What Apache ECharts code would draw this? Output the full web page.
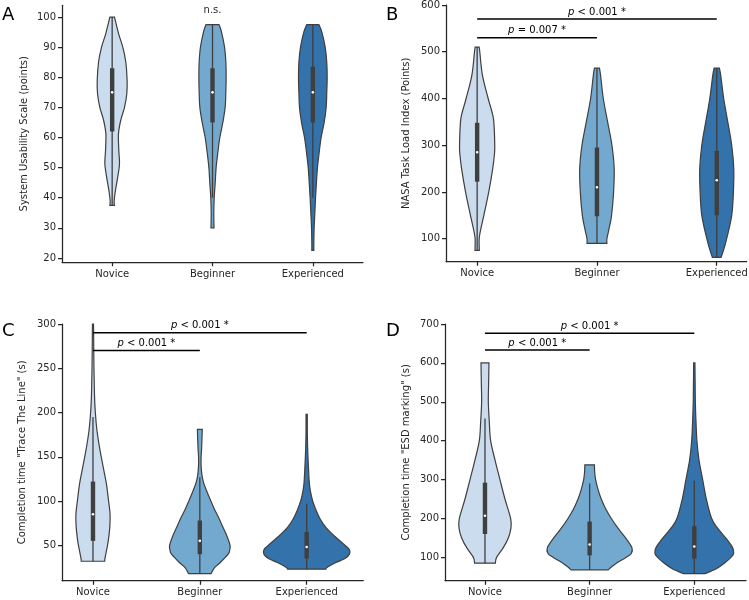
<!DOCTYPE html>
<html><head><meta charset="utf-8">
<script src="https://cdn.jsdelivr.net/npm/echarts@6/dist/echarts.min.js"></script>
<style>html,body{margin:0;padding:0;background:#fff}#c{width:749px;height:600px}</style>
</head><body><div id="c"></div>
<script>
// ---------- data ----------
const categories = ['Novice', 'Beginner', 'Experienced'];
// violin profiles: [value, half-width in category units]
const A_novice = [[37.5,0.023],[39,0.02],[42.5,0.033],[47,0.056],[51.4,0.073],[55.8,0.066],[61.3,0.063],[65.8,0.086],[70,0.123],[74.6,0.146],[79,0.149],[85,0.136],[90,0.106],[94.6,0.063],[100,0.023]];
const A_beginner = [[30,0.015],[35,0.013],[40,0.017],[45,0.027],[50,0.036],[55,0.053],[60,0.073],[65,0.103],[70,0.126],[75,0.133],[80,0.136],[85,0.133],[90,0.12],[95,0.09],[97.5,0.065]];
const A_experienced = [[22.5,0.01],[25,0.01],[30,0.013],[35,0.02],[40,0.027],[45,0.036],[50,0.046],[55,0.063],[60,0.083],[65,0.113],[70,0.133],[75,0.139],[80,0.143],[85,0.139],[90,0.123],[95,0.09],[97.5,0.06]];
const B_novice = [[75,0.018],[100,0.017],[120,0.03],[150,0.056],[200,0.097],[250,0.13],[280,0.144],[300,0.147],[350,0.139],[370,0.125],[400,0.092],[450,0.044],[500,0.022],[510,0.017]];
const B_beginner = [[90,0.083],[100,0.083],[120,0.1],[150,0.122],[200,0.139],[250,0.144],[300,0.125],[350,0.089],[400,0.053],[450,0.03],[465,0.021]];
const B_experienced = [[60,0.036],[75,0.056],[100,0.083],[150,0.125],[200,0.139],[250,0.142],[300,0.125],[350,0.092],[400,0.058],[450,0.033],[465,0.022]];
const C_novice = [[32,0.11],[35,0.112],[45,0.128],[55,0.143],[70,0.157],[85,0.16],[100,0.146],[120,0.125],[140,0.093],[160,0.062],[180,0.037],[200,0.022],[220,0.014],[250,0.009],[300,0.005]];
const C_beginner = [[18,0.105],[25,0.14],[30,0.187],[40,0.265],[45,0.28],[50,0.283],[60,0.255],[70,0.218],[80,0.181],[90,0.14],[100,0.103],[110,0.069],[120,0.037],[130,0.019],[140,0.012],[150,0.012],[160,0.017],[170,0.02],[181,0.023]];
const C_experienced = [[23,0.18],[25,0.19],[30,0.265],[35,0.358],[40,0.4],[45,0.4],[50,0.358],[60,0.265],[70,0.181],[80,0.125],[90,0.087],[100,0.056],[110,0.037],[120,0.025],[140,0.016],[160,0.009],[180,0.006],[198,0.006]];
const D_novice = [[85,0.099],[100,0.111],[125,0.175],[150,0.223],[175,0.248],[200,0.245],[250,0.191],[300,0.143],[350,0.096],[400,0.054],[450,0.041],[500,0.032],[550,0.035],[600,0.038]];
const D_beginner = [[68,0.178],[75,0.207],[85,0.255],[100,0.35],[110,0.398],[125,0.404],[150,0.344],[175,0.271],[200,0.207],[225,0.153],[250,0.111],[275,0.08],[300,0.057],[320,0.048],[338,0.046]];
const D_experienced = [[58,0.1],[70,0.207],[85,0.287],[100,0.35],[110,0.376],[125,0.366],[150,0.3],[175,0.223],[200,0.166],[250,0.115],[300,0.08],[350,0.045],[400,0.025],[450,0.016],[500,0.01],[550,0.008],[600,0.006]];
// inner boxes: [lower whisker, q1, median, q3, upper whisker]
const A_boxes = [[37.5,62,75,83,100],[40,65,75,83,97.5],[40,65,75,83.5,97.5]];
const B_boxes = [[75,222,285,348,510],[90,148,210,295,465],[60,150,225,288,465]];
const C_boxes = [[32,55,85,122,195],[18,40,55,78,127],[23,35,48,65,97]];
const D_boxes = [[85,160,207,292,457],[68,105,133,192,290],[58,97,128,180,297]];
// significance brackets: [from category, to category, value, label]
const B_brackets = [[0,1,530,'= 0.007 *'],[0,2,570,'< 0.001 *']];
const C_brackets = [[0,1,270,'< 0.001 *'],[0,2,290,'< 0.001 *']];
const D_brackets = [[0,1,633,'< 0.001 *'],[0,2,676,'< 0.001 *']];
const A_note = [[1,102.3,'n.s.']];
// y tick values
const A_ticks = [20,30,40,50,60,70,80,90,100];
const B_ticks = [100,200,300,400,500,600];
const C_ticks = [50,100,150,200,250,300];
const D_ticks = [100,200,300,400,500,600,700];
const yTitles = ['System Usability Scale (points)','NASA Task Load Index (Points)','Completion time "Trace The Line" (s)','Completion time "ESD marking" (s)'];

// ---------- styling / layout ----------
const colors = ['#cadcee','#74a9cf','#3372aa'];
const FONT = 'DejaVu Sans';
const TXT = '#262626';
const panels = [
  {grid:{left:62,top:5.3,width:301,height:256.9}, y:[18.6,103.9], x:[-0.5,2.5], ticks:A_ticks, prof:[A_novice,A_beginner,A_experienced], boxes:A_boxes, brackets:[], nameGap:33},
  {grid:{left:446,top:5,width:300.7,height:256.7}, y:[50.8,600], x:[-0.26,2.25], ticks:B_ticks, prof:[B_novice,B_beginner,B_experienced], boxes:B_boxes, brackets:B_brackets, nameGap:35},
  {grid:{left:62,top:324,width:301.3,height:256.7}, y:[10,300], x:[-0.29,2.53], ticks:C_ticks, prof:[C_novice,C_beginner,C_experienced], boxes:C_boxes, brackets:C_brackets, nameGap:35},
  {grid:{left:445,top:324,width:301,height:256.7}, y:[40,700], x:[-0.382,2.494], ticks:D_ticks, prof:[D_novice,D_beginner,D_experienced], boxes:D_boxes, brackets:D_brackets, nameGap:34}
];

function sideCurve(pts) {
  let d = '';
  for (let k = 0; k < pts.length - 1; k++) {
    const p0 = pts[k-1] || pts[k], p1 = pts[k], p2 = pts[k+1], p3 = pts[k+2] || pts[k+1];
    const c1 = [p1[0] + (p2[0]-p0[0])/6, p1[1] + (p2[1]-p0[1])/6];
    const c2 = [p2[0] - (p3[0]-p1[0])/6, p2[1] - (p3[1]-p1[1])/6];
    d += ' C' + c1[0] + ' ' + c1[1] + ' ' + c2[0] + ' ' + c2[1] + ' ' + p2[0] + ' ' + p2[1];
  }
  return d;
}

const grid = [], xAxis = [], yAxis = [], series = [];
panels.forEach((p, g) => {
  grid.push(Object.assign({outerBoundsMode:'none', containLabel:false}, p.grid));
  xAxis.push({type:'value', gridIndex:g, min:p.x[0], max:p.x[1],
    axisLine:{show:true, onZero:false, lineStyle:{color:TXT, width:1.25}},
    axisTick:{show:true, length:4, customValues:[0,1,2], lineStyle:{color:TXT, width:1.25}},
    axisLabel:{customValues:[0,1,2], formatter:v => categories[Math.round(v)], color:TXT, fontSize:10, fontFamily:FONT, margin:7},
    splitLine:{show:false}});
  yAxis.push({type:'value', gridIndex:g, min:p.y[0], max:p.y[1],
    axisLine:{show:true, onZero:false, lineStyle:{color:TXT, width:1.25}},
    axisTick:{show:true, length:4, customValues:p.ticks, lineStyle:{color:TXT, width:1.25}},
    axisLabel:{customValues:p.ticks, color:TXT, fontSize:10, fontFamily:FONT, margin:6},
    splitLine:{show:false},
    name:yTitles[g], nameLocation:'middle', nameGap:p.nameGap, nameRotate:90,
    nameTextStyle:{color:TXT, fontSize:10, fontFamily:FONT}});
  series.push({type:'custom', xAxisIndex:g, yAxisIndex:g, silent:true,
    data:p.boxes.map((b, i) => [i, b[2]]),
    renderItem:(params, api) => {
      const i = params.dataIndex;
      const prof = p.prof[i];
      const right = prof.map(([v, w]) => api.coord([i + w, v]));
      const left = prof.slice().reverse().map(([v, w]) => api.coord([i - w, v]));
      const d = 'M' + right[0][0] + ' ' + right[0][1] + sideCurve(right) +
        ' L' + left[0][0] + ' ' + left[0][1] + sideCurve(left) + ' Z';
      const b = p.boxes[i];
      const c = b.map(v => api.coord([i, v]));
      return {type:'group', children:[
        {type:'path', shape:{pathData:d}, style:{fill:colors[i], stroke:'#3f3f3f', lineWidth:1.2}},
        {type:'line', shape:{x1:c[0][0], y1:c[0][1], x2:c[4][0], y2:c[4][1]}, style:{stroke:'#3f3f3f', lineWidth:1.3}},
        {type:'rect', shape:{x:c[1][0]-2.2, y:c[3][1], width:4.4, height:c[1][1]-c[3][1]}, style:{fill:'#3f3f3f'}},
        {type:'circle', shape:{cx:c[2][0], cy:c[2][1], r:1.3}, style:{fill:'#ffffff'}}
      ]};
    }});
  if (p.brackets.length) {
    series.push({type:'custom', xAxisIndex:g, yAxisIndex:g, silent:true, z:5,
      data:p.brackets.map(b => [(b[0]+b[1])/2, b[2]]),
      renderItem:(params, api) => {
        const b = p.brackets[params.dataIndex];
        const a = api.coord([b[0], b[2]]), e = api.coord([b[1], b[2]]);
        return {type:'group', children:[
          {type:'line', shape:{x1:a[0], y1:a[1], x2:e[0], y2:e[1]}, style:{stroke:'#000', lineWidth:1.5}},
          {type:'text', x:(a[0]+e[0])/2, y:a[1]-2, style:{text:'{i|p} ' + b[3], align:'center', verticalAlign:'bottom',
            fill:'#000', fontSize:10, fontFamily:FONT,
            rich:{i:{fontStyle:'italic', fontSize:10, fontFamily:FONT, fill:'#000'}}}}
        ]};
      }});
  }
});
series.push({type:'custom', xAxisIndex:0, yAxisIndex:0, silent:true,
  data:A_note.map(n => [n[0], n[1]]),
  renderItem:(params, api) => {
    const n = A_note[params.dataIndex];
    const c = api.coord([n[0], n[1]]);
    return {type:'text', x:c[0], y:c[1], style:{text:n[2], align:'center', verticalAlign:'middle', fill:TXT, fontSize:10, fontFamily:FONT}};
  }});

const letters = [['A',2,6],['B',386,6],['C',2,322],['D',386,322]];
const chart = echarts.init(document.getElementById('c'), null, {renderer:'canvas'});
chart.setOption({
  backgroundColor:'#fff', animation:false,
  grid, xAxis, yAxis, series,
  graphic: letters.map(l => ({type:'text', left:l[1], top:l[2], style:{text:l[0], fontSize:18, fontFamily:FONT, fill:'#000'}}))
});
</script></body></html>
